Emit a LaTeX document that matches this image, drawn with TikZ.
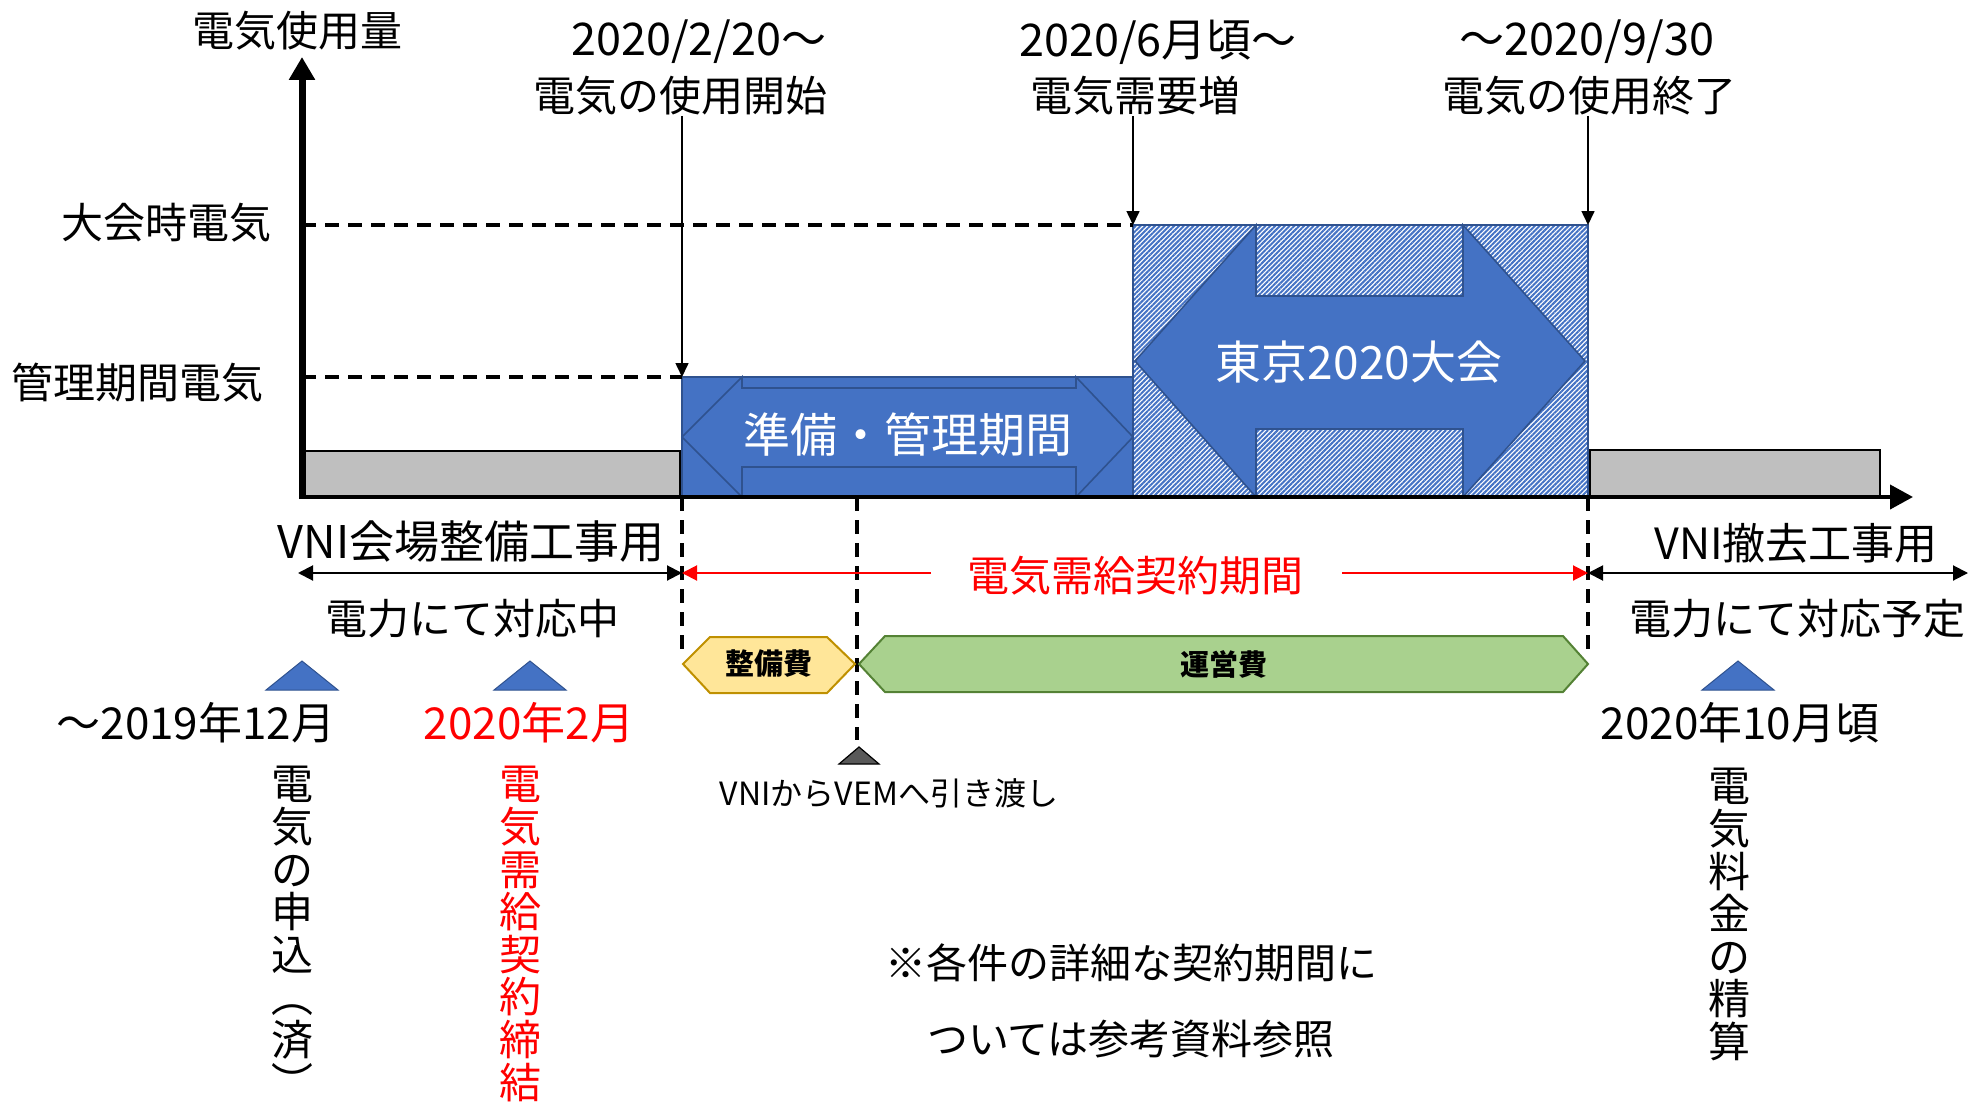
\documentclass[tikz,border=0pt]{standalone}
\usepackage{fontspec}
\usepackage{graphicx}
\setmainfont{Noto Sans CJK JP}
\usetikzlibrary{arrows.meta,patterns.meta}
\definecolor{cblue}{HTML}{4472C4}
\definecolor{cdblue}{HTML}{2F528F}
\definecolor{cgrey}{HTML}{BFBFBF}
\definecolor{cyel}{HTML}{FFE699}
\definecolor{cyelb}{HTML}{BF9000}
\definecolor{cgrn}{HTML}{A9D18E}
\definecolor{cgrnb}{HTML}{548235}
\definecolor{cred}{HTML}{FF0000}
\definecolor{cdark}{HTML}{595959}
\newcommand{\fsz}[1]{\fontsize{#1}{#1}\selectfont}
\begin{document}
\begin{tikzpicture}[x=0.5pt,y=-0.5pt,
  lbl/.style={inner sep=0pt, font=\fsz{21pt}},
  datelbl/.style={inner sep=0pt, font=\fsz{22.5pt}},
  dashln/.style={line width=2pt, dash pattern=on 7pt off 4.5pt},
  tiparrow/.style={-{Triangle[length=7pt,width=6.5pt]}, line width=0.8pt},
  dblarrow/.style={{Triangle[length=7.5pt,width=7.5pt]}-{Triangle[length=7.5pt,width=7.5pt]}, line width=1pt},
  onearrow/.style={-{Triangle[length=7.5pt,width=7.5pt]}, line width=1pt},
  greybox/.style={draw=black, line width=1.2pt, fill=cgrey, inner sep=0pt, outer sep=0pt, anchor=south west},
  bluebox/.style={draw=cdblue, line width=0.8pt, fill=cblue, inner sep=0pt, outer sep=0pt, anchor=south west},
  hatchbox/.style={draw=cdblue, line width=0.8pt, preaction={fill=white}, pattern={Lines[angle=45,distance=1.7pt,line width=1pt]}, pattern color=cblue, inner sep=0pt, outer sep=0pt, anchor=south west},
  bigarrow/.style={draw=cdblue, line width=0.8pt, fill=cblue},
  marker/.style={draw=cdblue, line width=0.5pt, fill=cblue},
  vtext/.style={inner sep=0pt, anchor=north, align=center, font=\fontsize{21pt}{21.3pt}\selectfont},
]
\useasboundingbox (0,0) rectangle (1970,1102);

% ---------- boxes ----------
\node[greybox, minimum width=188.5pt, minimum height=23pt] (g1) at (303,497) {};
\node[greybox, minimum width=145pt, minimum height=23.5pt] (g2) at (1590,497) {};
\node[bluebox, minimum width=225.5pt, minimum height=60pt] (pb) at (682,497) {};
\node[hatchbox, minimum width=227.5pt, minimum height=136pt] (hb) at (1133,497) {};

% inner double arrows
\draw[bigarrow] (682,437) -- (742,377) -- (742,388) -- (1076,388) -- (1076,377) -- (1133,437)
  -- (1076,497) -- (1076,467) -- (742,467) -- (742,497) -- cycle;
\draw[bigarrow] (1135,361) -- (1256,225) -- (1256,296) -- (1463,296) -- (1463,225) -- (1585,361)
  -- (1463,497) -- (1463,429) -- (1256,429) -- (1256,497) -- cycle;
\node[inner sep=0pt, text=white, font=\fsz{23.5pt}] (pbt) at (908,435) {準備・管理期間};
\node[inner sep=0pt, text=white, font=\fsz{23pt}] (hbt) at (1359,362) {東京2020大会};

% ---------- axes ----------
\coordinate (O) at (302,497);
\coordinate (Ytop) at (302,57);
\coordinate (Xend) at (1913,497);
\draw[line width=3.5pt, -{Triangle[length=11.5pt,width=12.5pt]}] (302,499) -- (Ytop);
\draw[line width=2pt, -{Triangle[length=11.5pt,width=12pt]}] (300,497) -- (Xend);

% axis labels
\node[lbl] (ylab) at (297,31) {電気使用量};
\node[lbl, anchor=east] (lv1) at (272,223) {大会時電気};
\node[lbl, anchor=east] (lv2) at (264,383) {管理期間電気};
\draw[dashln] (O |- hb.north west) -- (hb.north west);
\draw[dashln] (O |- pb.north west) -- (pb.north west);

% top labels
\node[datelbl] (t1a) at (699,42) {2020/2/20～};
\node[lbl] (t1b) at (680,96) {電気の使用開始};
\node[datelbl] (t2a) at (1158,42) {2020/6月頃～};
\node[lbl] (t2b) at (1135,96) {電気需要増};
\node[datelbl] (t3a) at (1587,42) {～2020/9/30};
\node[lbl] (t3b) at (1589,96) {電気の使用終了};
\draw[tiparrow] (t1b.south -| pb.north west) -- (pb.north west);
\draw[tiparrow] (t2b.south -| hb.north west) -- (hb.north west);
\draw[tiparrow] (t3b.south -| hb.north east) -- (hb.north east);

% ---------- below axis ----------
\coordinate (hand) at (857,497);
\draw[dashln] (pb.south west) -- ++(0,153);
\draw[dashln] (hand) -- ++(0,243);
\draw[dashln] (hb.south east) -- ++(0,156);

\node[inner sep=0pt, font=\fsz{22.5pt}] (vni1) at (471,542) {VNI会場整備工事用};
\node[lbl] (den1) at (472,619) {電力にて対応中};
\coordinate (al) at (298,573);
\coordinate (am1) at (682,573);
\coordinate (am2) at (1588,573);
\coordinate (ar) at (1968,573);
\draw[dblarrow] (al) -- (am1);
\draw[dblarrow] (am2) -- (ar);
\node[lbl, text=cred] (rlab) at (1135,576) {電気需給契約期間};
\coordinate (rl) at (931,573);
\coordinate (rr) at (1342,573);
\draw[onearrow, cred] (rl) -- (am1);
\draw[onearrow, cred] (rr) -- (am2);
\node[inner sep=0pt, font=\fsz{21.5pt}] (vni2) at (1796,543) {VNI撤去工事用};
\node[lbl] (den2) at (1797,619) {電力にて対応予定};

% cost hexagons
\draw[draw=cyelb, line width=1pt, fill=cyel] (683,664) -- (710,637) -- (827,637) -- (855,664) -- (827,693) -- (710,693) -- cycle;
\draw[draw=cgrnb, line width=1pt, fill=cgrn] (859,664) -- (885,636) -- (1563,636) -- (1588,664) -- (1563,692) -- (885,692) -- cycle;
\node[inner sep=0pt, font=\fsz{14.5pt}\bfseries] (zb) at (769,664) {整備費};
\node[inner sep=0pt, font=\fsz{14.5pt}\bfseries] (ue) at (1224,664) {運営費};

% hand-over marker
\draw[draw=black, line width=0.6pt, fill=cdark] (839,764) -- (879,764) -- (859,747) -- cycle;
\node[inner sep=0pt, font=\fsz{16pt}] (handt) at (889,793) {VNIからVEMへ引き渡し};

% date markers
\draw[marker] (266,690) -- (338,690) -- (302,661) -- cycle;
\draw[marker] (494,690) -- (566,690) -- (530,661) -- cycle;
\draw[marker] (1702,690) -- (1774,690) -- (1738,661) -- cycle;
\node[inner sep=0pt, font=\fsz{22pt}] (d1) at (196,723) {～2019年12月};
\node[inner sep=0pt, font=\fsz{22pt}, text=cred] (d2) at (529,723) {2020年2月};
\node[inner sep=0pt, font=\fsz{22pt}] (d3) at (1740,723) {2020年10月頃};

% vertical texts
\node[vtext] (v1) at (292,766) {電\\気\\の\\申\\込\\\rotatebox[origin=c]{-90}{（}\\済\\\rotatebox[origin=c]{-90}{）}};
\node[vtext, text=cred] (v2) at (520,766) {電\\気\\需\\給\\契\\約\\締\\結};
\node[vtext] (v3) at (1729,768) {電\\気\\料\\金\\の\\精\\算};

% note
\node[inner sep=0pt, font=\fsz{20.5pt}] (n1) at (1131,963) {※各件の詳細な契約期間に};
\node[inner sep=0pt, font=\fsz{20.5pt}] (n2) at (1131,1039) {ついては参考資料参照};
\end{tikzpicture}
\end{document}
